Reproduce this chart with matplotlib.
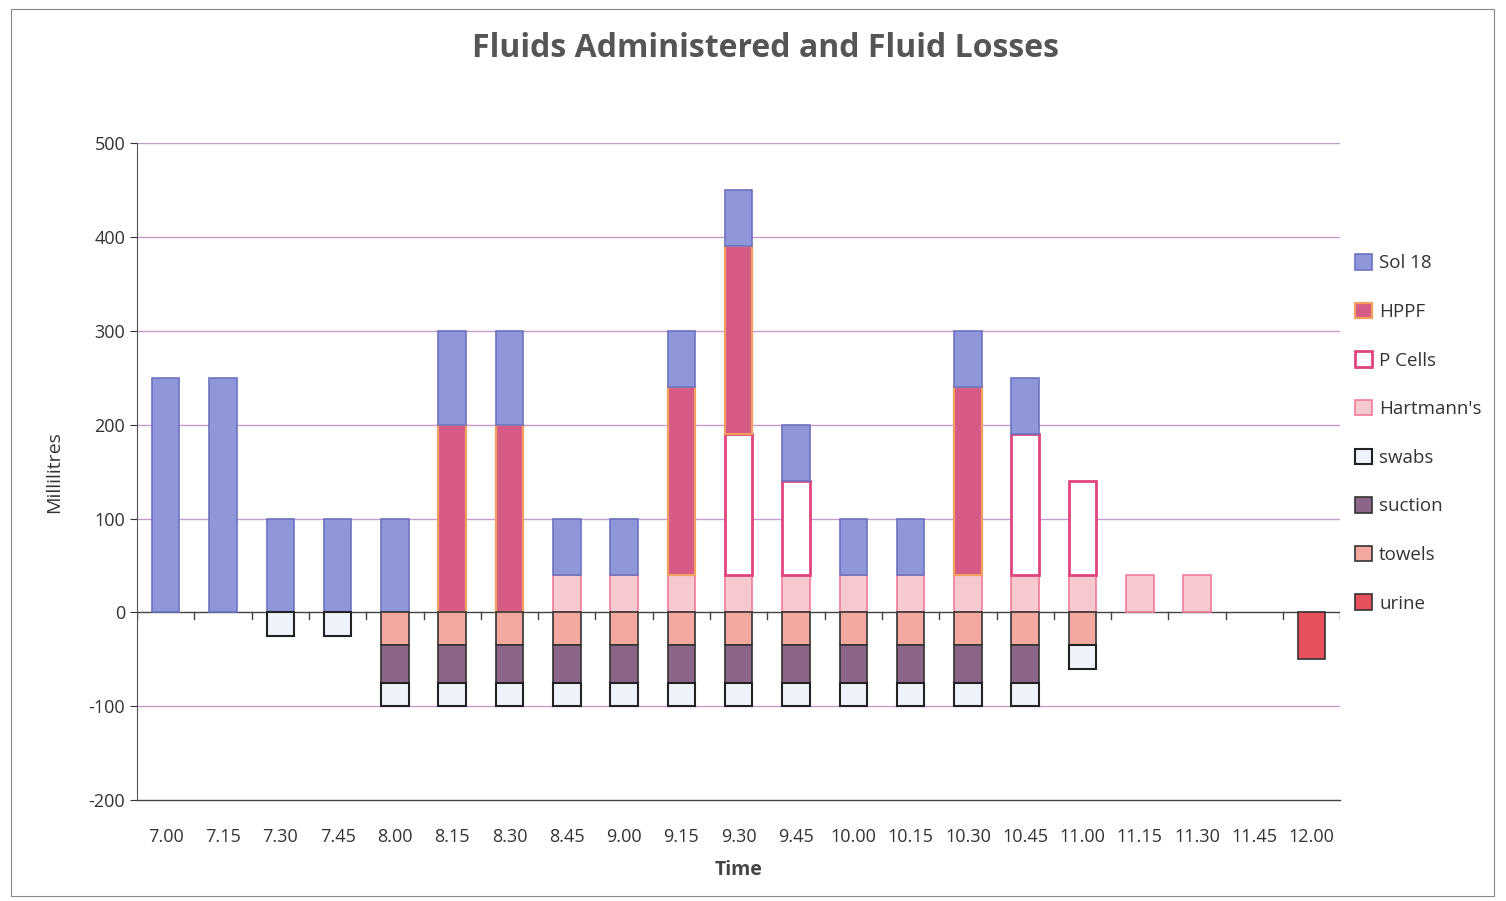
import numpy as np
import matplotlib
matplotlib.use("Agg")
import matplotlib.pyplot as plt
from matplotlib.patches import Rectangle

times = ["7.00", "7.15", "7.30", "7.45", "8.00", "8.15", "8.30", "8.45", "9.00",
         "9.15", "9.30", "9.45", "10.00", "10.15", "10.30", "10.45", "11.00",
         "11.15", "11.30", "11.45", "12.00"]

# fluids administered (positive)
hartmanns = [0, 0, 0, 0, 0, 0, 0, 40, 40, 40, 40, 40, 40, 40, 40, 40, 40, 40, 40, 0, 0]
p_cells = [0, 0, 0, 0, 0, 0, 0, 0, 0, 0, 150, 100, 0, 0, 0, 150, 100, 0, 0, 0, 0]
hppf = [0, 0, 0, 0, 0, 200, 200, 0, 0, 200, 200, 0, 0, 0, 200, 0, 0, 0, 0, 0, 0]
sol18 = [250, 250, 100, 100, 100, 100, 100, 60, 60, 60, 60, 60, 60, 60, 60, 60, 0, 0, 0, 0, 0]

# fluid losses (negative)
urine = [0, 0, 0, 0, 0, 0, 0, 0, 0, 0, 0, 0, 0, 0, 0, 0, 0, 0, 0, 0, -50]
towels = [0, 0, 0, 0, -35, -35, -35, -35, -35, -35, -35, -35, -35, -35, -35, -35, -35, 0, 0, 0, 0]
suction = [0, 0, 0, 0, -40, -40, -40, -40, -40, -40, -40, -40, -40, -40, -40, -40, 0, 0, 0, 0, 0]
swabs = [0, 0, -25, -25, -25, -25, -25, -25, -25, -25, -25, -25, -25, -25, -25, -25, -25, 0, 0, 0, 0]

styles = {
    "Sol 18": dict(color="#8F96D9", edgecolor="#6E72C0", linewidth=1.2),
    "HPPF": dict(color="#D65A86", edgecolor="#F2A060", linewidth=1.6),
    "P Cells": dict(color="white", edgecolor="#E0457F", linewidth=2.0),
    "Hartmann's": dict(color="#F6C8D0", edgecolor="#F07C98", linewidth=1.2),
    "swabs": dict(color="#EEF2FA", edgecolor="#222222", linewidth=1.5),
    "suction": dict(color="#8C6688", edgecolor="#333333", linewidth=1.2),
    "towels": dict(color="#F2A89E", edgecolor="#333333", linewidth=1.2),
    "urine": dict(color="#E8505E", edgecolor="#333333", linewidth=1.2),
}

plt.rcParams["font.family"] = ["Open Sans", "DejaVu Sans"]
plt.rcParams["axes.unicode_minus"] = False

fig = plt.figure(figsize=(15.06, 9.01), dpi=100)
ax = fig.add_axes([0.091, 0.112, 0.799, 0.729])

x = np.arange(len(times))
w = 0.48
bars = {}


def stack(series):
    bottom = np.zeros(len(times))
    for name, vals in series:
        vals = np.array(vals, dtype=float)
        keep = vals != 0
        bars[name] = ax.bar(x[keep], vals[keep], w, bottom=bottom[keep],
                            zorder=3, **styles[name])
        bottom += vals


stack([("Hartmann's", hartmanns), ("P Cells", p_cells),
       ("HPPF", hppf), ("Sol 18", sol18)])
stack([("urine", urine), ("towels", towels),
       ("suction", suction), ("swabs", swabs)])

ax.set_xlim(-0.5, len(times) - 0.5)
ax.set_ylim(-200, 500)
ax.set_yticks(range(-200, 501, 100))
ax.set_xticks(x)
ax.set_xticklabels(times, fontsize=13, color="#333333")
ax.tick_params(axis="x", length=0, pad=20)
ax.tick_params(axis="y", labelsize=13, colors="#333333", length=5, direction="out")
for s in ["top", "right", "bottom"]:
    ax.spines[s].set_visible(False)
ax.spines["left"].set_color("#555555")

# gridlines
for yv in range(-100, 501, 100):
    if yv == 0:
        continue
    ax.axhline(yv, color="#C89AD4", linewidth=1.0, zorder=1)
ax.axhline(-200, color="#444444", linewidth=1.0, zorder=1, clip_on=False)

# category axis at zero with tick marks between categories
ax.axhline(0, color="#444444", linewidth=1.0, zorder=2)
for b in np.arange(-0.5, len(times), 1.0):
    ax.plot([b, b], [0, -7], color="#444444", linewidth=1.0, zorder=2)

ax.set_ylabel("Millilitres", fontsize=14, color="#333333", labelpad=18)
ax.set_xlabel("Time", fontsize=14, fontweight="bold", color="#444444", labelpad=10)
fig.suptitle("Fluids Administered and Fluid Losses", x=0.508, y=0.965,
             fontsize=23, fontweight="bold", color="#555555")

order = ["Sol 18", "HPPF", "P Cells", "Hartmann's", "swabs", "suction", "towels", "urine"]
ax.legend([bars[n] for n in order], order, loc="upper left",
          bbox_to_anchor=(0.998, 0.857), frameon=False, fontsize=13.5,
          labelspacing=1.62, handlelength=0.9, handleheight=0.9,
          handletextpad=0.4, labelcolor="#333333")

fig.patches.append(Rectangle((0.007, 0.005), 0.985, 0.985, transform=fig.transFigure,
                             fill=False, edgecolor="#888888", linewidth=0.8))

fig.savefig("out.png", dpi=100)
